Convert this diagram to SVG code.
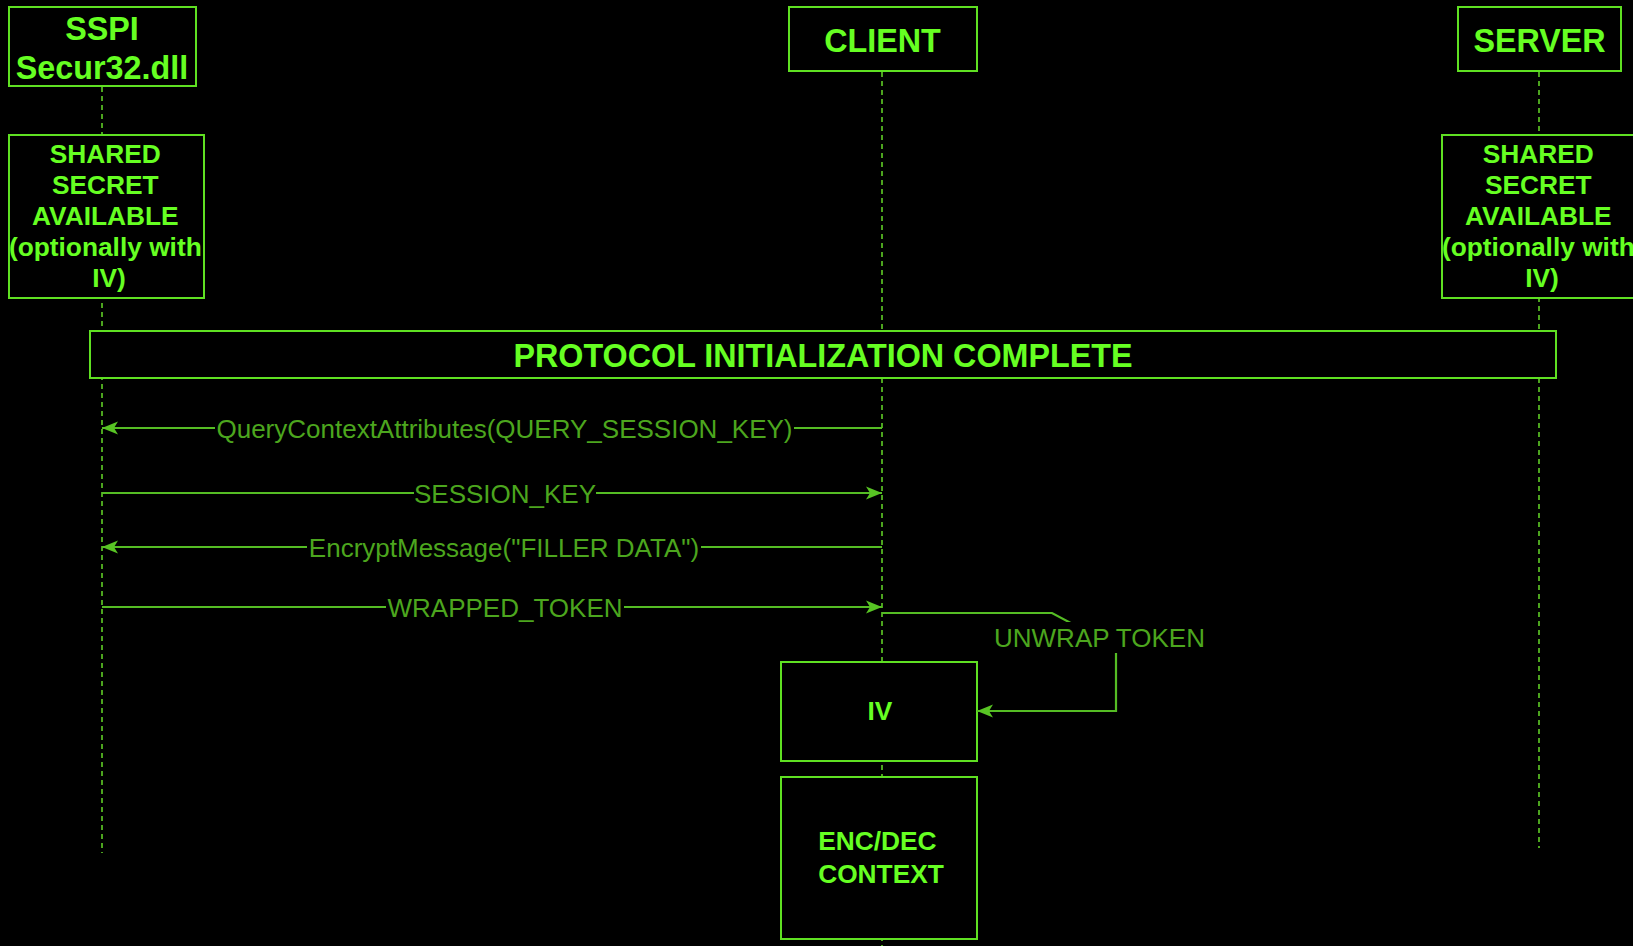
<svg xmlns="http://www.w3.org/2000/svg" width="1633" height="946" viewBox="0 0 1633 946">
  <style>
    .box { fill: #000; stroke: #5FE022; stroke-width: 2; }
    .title { font-family: "Liberation Sans", Arial, sans-serif; font-weight: bold; fill: #66FF22; text-anchor: middle; }
    .t32 { font-size: 32.3px; }
    .t26 { font-size: 26.3px; }
    .life { fill: none; stroke: #4CA41E; stroke-width: 2; stroke-dasharray: 5 4; }
    .edge { fill: none; stroke: #55BC24; stroke-width: 2.2; }
    .lbl { font-family: "Liberation Sans", Arial, sans-serif; font-size: 26px; fill: #4CA61E; text-anchor: middle; }
    .lblbg { fill: #000; }
  </style>
  <defs>
    <marker id="arrow" markerUnits="userSpaceOnUse" markerWidth="17" markerHeight="15" refX="16" refY="7.5" orient="auto">
      <path d="M0,1 L16,7.5 L0,14 L4,7.5 Z" fill="#58C424"/>
    </marker>
  </defs>

  <rect width="1633" height="946" fill="#000"/>

  <!-- lifelines -->
  <g id="lifelines">
    <line class="life" x1="102" y1="87" x2="102" y2="853"/>
    <line class="life" x1="882" y1="72" x2="882" y2="946"/>
    <line class="life" x1="1539" y1="72" x2="1539" y2="848"/>
  </g>

  <!-- participants -->
  <g id="sspi">
    <rect class="box" x="9" y="7" width="187" height="79"/>
    <text class="title t32" x="102" y="39.5">SSPI</text>
    <text class="title t32" x="102" y="78.5">Secur32.dll</text>
  </g>
  <g id="client">
    <rect class="box" x="789" y="7" width="188" height="64"/>
    <text class="title t32" x="882.5" y="51.5">CLIENT</text>
  </g>
  <g id="server">
    <rect class="box" x="1458" y="7" width="163" height="64"/>
    <text class="title t32" x="1539.5" y="51.5">SERVER</text>
  </g>

  <!-- shared secret notes -->
  <g id="secret-sspi">
    <rect class="box" x="9" y="135" width="195" height="163"/>
    <text class="title t26">
      <tspan x="109" y="163">SHARED</tspan>
      <tspan x="109" y="194">SECRET</tspan>
      <tspan x="109" y="225">AVAILABLE</tspan>
      <tspan x="109" y="256">(optionally with</tspan>
      <tspan x="109" y="287">IV)</tspan>
    </text>
  </g>
  <g id="secret-server">
    <rect class="box" x="1442" y="135" width="196" height="163"/>
    <text class="title t26">
      <tspan x="1542" y="163">SHARED</tspan>
      <tspan x="1542" y="194">SECRET</tspan>
      <tspan x="1542" y="225">AVAILABLE</tspan>
      <tspan x="1542" y="256">(optionally with</tspan>
      <tspan x="1542" y="287">IV)</tspan>
    </text>
  </g>

  <!-- protocol banner -->
  <g id="protocol-complete">
    <rect class="box" x="90" y="331" width="1466" height="47"/>
    <text class="title t32" x="823" y="366.5">PROTOCOL INITIALIZATION COMPLETE</text>
  </g>

  <!-- client-side state -->
  <g id="iv">
    <rect class="box" x="781" y="662" width="196" height="99"/>
    <text class="title t26" x="880" y="720">IV</text>
  </g>
  <g id="enc-dec-context">
    <rect class="box" x="781" y="777" width="196" height="162"/>
    <text class="title t26">
      <tspan x="881" y="850">ENC/DEC</tspan>
      <tspan x="881" y="882.5">CONTEXT</tspan>
    </text>
  </g>

  <!-- messages -->
  <g id="connectors">
    <g id="msg-query">
      <path class="edge" d="M882,428 H102" marker-end="url(#arrow)"/>
      <rect class="lblbg" x="215" y="414" width="579" height="30"/>
      <text class="lbl" x="504.5" y="437.5">QueryContextAttributes(QUERY_SESSION_KEY)</text>
    </g>
    <g id="msg-session-key">
      <path class="edge" d="M102,493 H882" marker-end="url(#arrow)"/>
      <rect class="lblbg" x="414" y="479" width="182" height="30"/>
      <text class="lbl" x="505" y="502.5">SESSION_KEY</text>
    </g>
    <g id="msg-encrypt">
      <path class="edge" d="M882,547 H102" marker-end="url(#arrow)"/>
      <rect class="lblbg" x="307" y="533" width="394" height="30"/>
      <text class="lbl" x="504" y="556.5">EncryptMessage("FILLER DATA")</text>
    </g>
    <g id="msg-wrapped-token">
      <path class="edge" d="M102,607 H882" marker-end="url(#arrow)"/>
      <rect class="lblbg" x="386" y="593" width="238" height="30"/>
      <text class="lbl" x="505" y="616.5">WRAPPED_TOKEN</text>
    </g>
    <g id="msg-unwrap">
      <path class="edge" d="M882,613 H1052 L1116,647 V711 H977" marker-end="url(#arrow)"/>
      <rect class="lblbg" x="994" y="622" width="211" height="31"/>
      <text class="lbl" x="1099.5" y="646.5">UNWRAP TOKEN</text>
    </g>
  </g>
</svg>
